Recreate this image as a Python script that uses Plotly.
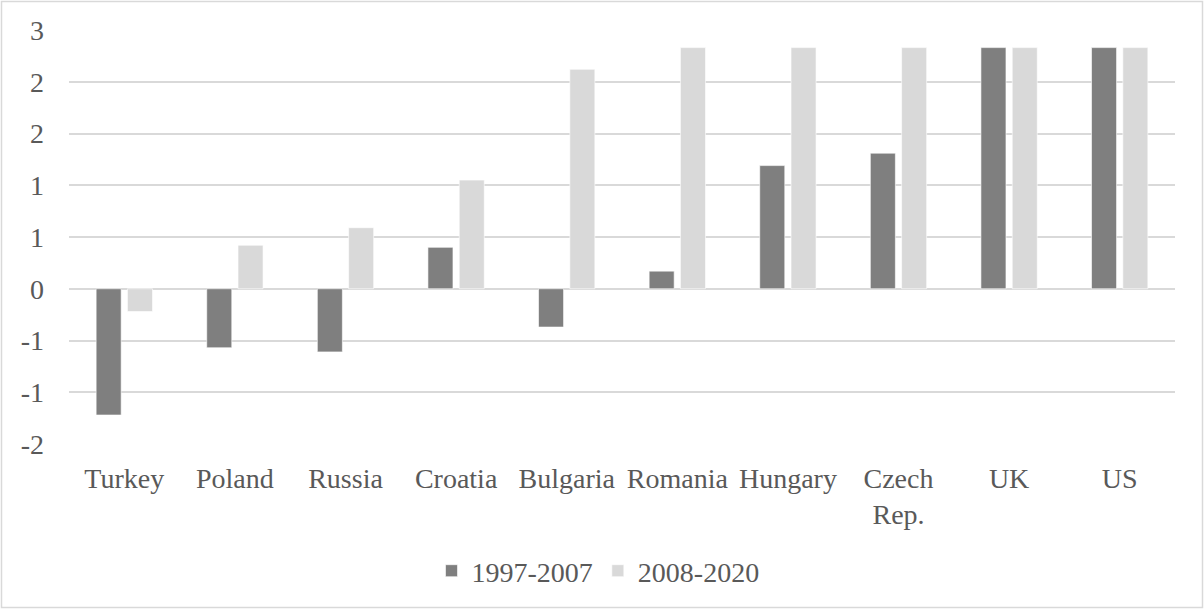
import plotly.graph_objects as go

countries = ["Turkey", "Poland", "Russia", "Croatia", "Bulgaria", "Romania",
             "Hungary", "Czech Rep.", "UK", "US"]
country_labels = ["Turkey", "Poland", "Russia", "Croatia", "Bulgaria", "Romania",
                  "Hungary", "Czech<br>Rep.", "UK", "US"]
period_1997_2007 = [-1.22, -0.57, -0.61, 0.40, -0.37, 0.17, 1.19, 1.31, 2.33, 2.33]
period_2008_2020 = [-0.22, 0.42, 0.59, 1.05, 2.12, 2.33, 2.33, 2.33, 2.33, 2.33]

y_tickvals = [-1.5, -1.0, -0.5, 0.0, 0.5, 1.0, 1.5, 2.0, 2.5]
y_ticktext = ["-2", "-1", "-1", "0", "1", "1", "2", "2", "3"]

FONT = "Liberation Serif, Times New Roman, serif"
TEXT = "#595959"

fig = go.Figure()
fig.add_trace(go.Bar(
    x=countries, y=period_1997_2007, name="1997-2007",
    marker=dict(color="#7f7f7f", line=dict(color="rgba(255,255,255,0.6)", width=1)),
))
fig.add_trace(go.Bar(
    x=countries, y=period_2008_2020, name="2008-2020",
    marker=dict(color="#d9d9d9", line=dict(color="rgba(255,255,255,0.6)", width=1)),
))

W, H = 1204, 610
L, R, T, B = 69, 29, 30, 166

fig.update_layout(
    width=W, height=H,
    margin=dict(l=L, r=R, t=T, b=B),
    paper_bgcolor="white", plot_bgcolor="white",
    font=dict(family=FONT, size=28, color=TEXT),
    barmode="group", bargap=0.434, bargroupgap=0.2,
    showlegend=True,
    legend=dict(orientation="h", x=(598 - L) / (W - L - R), xanchor="center",
                y=(H - B - 571) / (H - T - B), yanchor="middle",
                font=dict(family=FONT, size=28, color=TEXT),
                itemwidth=30, traceorder="normal"),
    xaxis=dict(tickmode="array", tickvals=countries, ticktext=country_labels,
               showgrid=False, showline=False, zeroline=False, ticks="",
               ticklabelstandoff=15, tickfont=dict(size=28, color=TEXT, family=FONT)),
    yaxis=dict(range=[-1.5, 2.5], tickmode="array", tickvals=y_tickvals,
               ticktext=y_ticktext, showgrid=True, gridcolor="#d9d9d9", gridwidth=1.5,
               zeroline=False, showline=False, ticks="", ticklabelstandoff=24,
               tickfont=dict(size=28, color=TEXT, family=FONT)),
    shapes=[dict(type="rect", xref="paper", yref="paper",
                 x0=(1.5 - L) / (W - L - R), x1=(W - 1.5 - L) / (W - L - R),
                 y0=(H - B - (H - 2.5)) / (H - T - B), y1=(H - B - 1.5) / (H - T - B),
                 line=dict(color="#d9d9d9", width=1.5), layer="below")],
)

fig.write_html("out.html")
